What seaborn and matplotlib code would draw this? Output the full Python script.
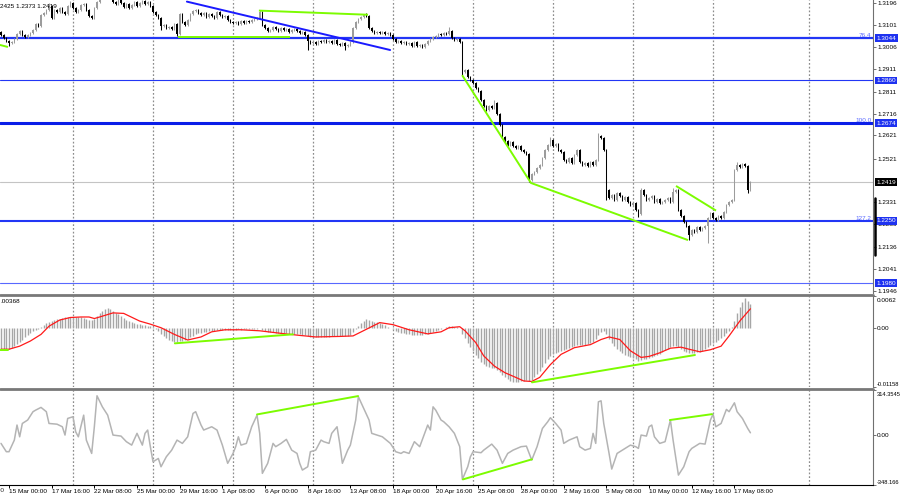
import numpy as np
import pandas as pd
import matplotlib
matplotlib.use("Agg")
import matplotlib.pyplot as plt
from matplotlib.lines import Line2D
from matplotlib.transforms import ScaledTranslation
import seaborn as sns

# ---------------- data ----------------
first_open = 1.3070
closes = [
    1.3057, 1.3044, 1.3031, 1.3022, 1.3027, 1.3040, 1.3061, 1.3074, 1.3057, 1.3048,
    1.3057, 1.3066, 1.3079, 1.3105, 1.3096, 1.3144, 1.3153, 1.3166, 1.3183, 1.3131,
    1.3166, 1.3157, 1.3174, 1.3157, 1.3148, 1.3183, 1.3196, 1.3174, 1.3157, 1.3166,
    1.3187, 1.3192, 1.3166, 1.3140, 1.3131, 1.3174, 1.3200, 1.3226, 1.3252, 1.3270,
    1.3252, 1.3226, 1.3200, 1.3192, 1.3209, 1.3196, 1.3179, 1.3192, 1.3174, 1.3187,
    1.3200, 1.3183, 1.3196, 1.3205, 1.3192, 1.3200, 1.3183, 1.3157, 1.3144, 1.3131,
    1.3096, 1.3101, 1.3087, 1.3092, 1.3083, 1.3105, 1.3061, 1.3148, 1.3114, 1.3101,
    1.3122, 1.3148, 1.3161, 1.3166, 1.3153, 1.3144, 1.3153, 1.3135, 1.3148, 1.3140,
    1.3131, 1.3157, 1.3144, 1.3135, 1.3140, 1.3122, 1.3114, 1.3109, 1.3114, 1.3105,
    1.3118, 1.3109, 1.3118, 1.3114, 1.3122, 1.3127, 1.3131, 1.3157, 1.3101, 1.3087,
    1.3074, 1.3079, 1.3092, 1.3083, 1.3074, 1.3087, 1.3079, 1.3083, 1.3070, 1.3079,
    1.3083, 1.3074, 1.3066, 1.3070, 1.3057, 1.3031, 1.3022, 1.3027, 1.3018, 1.3031,
    1.3027, 1.3035, 1.3027, 1.3031, 1.3022, 1.3035, 1.3018, 1.3014, 1.3022, 1.3009,
    1.3014, 1.3027, 1.3087, 1.3114, 1.3127, 1.3135, 1.3144, 1.3140, 1.3087, 1.3074,
    1.3066, 1.3070, 1.3066, 1.3070, 1.3061, 1.3066, 1.3057, 1.3040, 1.3027, 1.3031,
    1.3022, 1.3027, 1.3018, 1.3022, 1.3009, 1.3027, 1.3009, 1.3014, 1.3005, 1.3018,
    1.3031, 1.3040, 1.3048, 1.3053, 1.3061, 1.3057, 1.3066, 1.3061, 1.3074, 1.3044,
    1.3035, 1.3040, 1.3027, 1.2897, 1.2905, 1.2875, 1.2862, 1.2849, 1.2827, 1.2814,
    1.2775, 1.2749, 1.2732, 1.2749, 1.2740, 1.2762, 1.2714, 1.2667, 1.2614, 1.2597,
    1.2580, 1.2593, 1.2575, 1.2567, 1.2575, 1.2558, 1.2549, 1.2541, 1.2428, 1.2454,
    1.2463, 1.2480, 1.2493, 1.2523, 1.2558, 1.2580, 1.2601, 1.2575, 1.2584, 1.2558,
    1.2549, 1.2515, 1.2506, 1.2523, 1.2502, 1.2536, 1.2558, 1.2506, 1.2493, 1.2502,
    1.2489, 1.2506, 1.2493, 1.2515, 1.2619, 1.2610, 1.2558, 1.2384, 1.2350, 1.2363,
    1.2341, 1.2371, 1.2358, 1.2341, 1.2354, 1.2332, 1.2319, 1.2328, 1.2298, 1.2280,
    1.2384, 1.2363, 1.2341, 1.2350, 1.2358, 1.2332, 1.2345, 1.2328, 1.2332, 1.2341,
    1.2350, 1.2332, 1.2376, 1.2384, 1.2298, 1.2272, 1.2246, 1.2228, 1.2189, 1.2211,
    1.2202, 1.2224, 1.2211, 1.2220, 1.2228, 1.2263, 1.2285, 1.2263, 1.2254, 1.2272,
    1.2263, 1.2289, 1.2319, 1.2332, 1.2341, 1.2471, 1.2493, 1.2484, 1.2497, 1.2489,
    1.2384, 1.2419,
]
spike_high = {18: 1.3196, 26: 1.3205, 97: 1.3166, 137: 1.3153, 168: 1.3092,
              185: 1.2775, 206: 1.2614, 224: 1.2632, 240: 1.2393, 252: 1.2393,
              276: 1.2506}
spike_low = {3: 1.3009, 60: 1.3079, 66: 1.3053, 115: 1.2992, 129: 1.2992,
             173: 1.2883, 198: 1.2419, 227: 1.2341, 239: 1.2267, 258: 1.2167,
             265: 1.2154, 280: 1.2371}

# MACD histogram in units of 1e-4
macd_hist_e4 = [
    -43, -43, -43, -42, -40, -36, -32, -27, -23, -19,
    -15, -11, -7, -4, -2, 2, 5, 9, 12, 14,
    16, 17, 18, 19, 20, 20, 21, 21, 20, 20,
    20, 19, 18, 16, 15, 18, 23, 28, 33, 37,
    39, 37, 33, 29, 26, 22, 19, 16, 13, 11,
    9, 8, 7, 6, 5, 4, 3, 1, -2, -7,
    -12, -16, -20, -23, -25, -27, -28, -26, -25, -24,
    -22, -19, -16, -13, -11, -10, -9, -8, -7, -6,
    -6, -5, -5, -5, -4, -4, -4, -4, -4, -3,
    -4, -3, -3, -3, -3, -2, -2, -1, -4, -6,
    -8, -9, -9, -10, -10, -10, -11, -11, -12, -12,
    -12, -13, -13, -14, -15, -17, -18, -18, -19, -19,
    -19, -18, -18, -18, -17, -17, -17, -17, -17, -17,
    -16, -14, -8, -2, 4, 9, 14, 17, 16, 14,
    12, 11, 9, 7, 5, 2, 0, -3, -6, -8,
    -10, -11, -12, -13, -14, -14, -14, -14, -14, -13,
    -12, -10, -8, -6, -4, -2, 0, 2, 3, 3,
    2, 1, 0, -12, -20, -30, -38, -46, -54, -60,
    -66, -71, -74, -76, -78, -79, -82, -86, -92, -97,
    -101, -104, -106, -107, -106, -105, -104, -103, -104, -102,
    -96, -90, -84, -76, -68, -61, -55, -52, -49, -47,
    -45, -43, -41, -39, -38, -36, -34, -34, -33, -33,
    -32, -30, -27, -22, -14, -8, -7, -13, -22, -30,
    -36, -42, -46, -50, -53, -56, -58, -60, -62, -65,
    -63, -62, -61, -59, -57, -55, -53, -51, -48, -44,
    -41, -38, -36, -35, -38, -42, -45, -48, -50, -50,
    -49, -48, -47, -45, -42, -38, -34, -30, -27, -24,
    -20, -16, -11, -6, 2, 14, 28, 40, 50, 58,
    52, 46,
]
signal_bars = [0, 3, 7, 11, 15, 18, 22, 26, 30, 33, 35, 37, 42, 46, 52, 56, 60, 65, 70, 75,
               79, 84, 90, 97, 105, 112, 118, 127, 132, 137, 142, 147, 153, 160, 165, 168,
               172, 174, 178, 181, 185, 189, 193, 196, 199, 202, 206, 210, 215, 221, 225,
               228, 232, 236, 240, 243, 247, 251, 255, 258, 262, 266, 270, 273, 277, 281]
signal_e4 = [-42, -42, -36, -26, -13, 3, 15, 20, 21, 21, 18, 21, 29, 28, 13, 7, 0, -13, -24, -18,
             -8, -4, -4, -6, -11, -15, -18, -17, -16, -3, 10, 6, -4, -12, -8, 0,
             2, -6, -29, -55, -75, -88, -97, -104, -105, -97, -72, -52, -39, -33, -23,
             -18, -23, -45, -58, -56, -49, -40, -38, -42, -47, -43, -36, -16, 13, 37]

cci_points = [
    (0, -58), (2, -116), (3, -116), (5, -35), (6, 70), (7, -12), (8, 81), (10, 105),
    (12, 163), (13, 174), (15, 193), (17, 163), (18, 81), (21, 76), (23, 58), (24, 0),
    (25, 116), (27, 128), (28, 23), (29, -12), (31, 139), (32, -35), (34, -128), (35, 58),
    (36, 274), (38, 197), (40, 139), (42, 0), (45, -7), (47, -46), (49, -70), (51, 12),
    (53, -70), (54, 12), (55, 35), (56, -81), (57, -186), (59, -163), (60, -221), (62, -151),
    (64, -105), (66, -35), (68, -58), (70, -12), (72, 151), (73, 163), (75, 70), (76, 35),
    (79, 58), (81, 35), (83, -70), (85, -197), (87, -128), (88, -81), (89, -12), (90, -70),
    (92, -58), (94, 58), (96, 139), (97, 12), (98, -267), (100, -197), (102, -58), (103, -81),
    (105, -58), (107, -30), (109, -105), (111, -128), (112, -197), (113, -244), (115, -221),
    (116, -116), (118, -105), (120, -35), (121, -46), (123, -58), (124, 12), (126, 58),
    (127, -58), (128, -197), (130, -105), (131, -70), (133, 105), (134, 267), (136, 186),
    (138, 105), (139, 12), (141, 0), (143, -12), (146, -58), (148, -116), (150, -128),
    (151, -116), (153, -128), (155, -46), (157, -81), (160, 70), (161, 35), (162, 197),
    (163, 174), (165, 105), (166, 93), (168, 58), (170, 12), (172, -81), (173, -309),
    (175, -221), (176, -151), (177, -116), (180, -123), (181, -105), (184, -63), (186, -105),
    (188, -197), (190, -128), (192, -105), (195, -81), (197, -77), (199, -174), (201, -81),
    (203, 46), (205, 93), (206, 121), (208, 81), (210, 35), (211, -58), (213, -35),
    (216, -12), (217, -81), (219, -105), (221, -93), (222, 12), (223, -58), (224, 232),
    (225, 239), (226, 81), (228, -128), (229, -237), (231, -128), (233, -105), (236, -70),
    (238, -81), (239, -93), (240, 0), (242, -7), (243, 58), (244, 70), (245, -12),
    (247, -58), (249, -46), (251, 105), (252, -35), (254, -279), (256, -221), (258, -116),
    (259, -93), (262, -58), (264, -63), (266, 105), (267, 146), (268, 58), (270, 81),
    (272, 179), (273, 163), (275, 225), (276, 163), (278, 116), (280, 46), (281, 16),
]

time_label_bars = [3, 19, 35, 51, 67, 83, 99, 115, 131, 147, 163, 179, 195, 211, 227, 243, 259, 275]
time_labels = ["15 Mar 00:00", "17 Mar 16:00", "22 Mar 08:00", "25 Mar 00:00", "29 Mar 16:00",
               "1 Apr 08:00", "6 Apr 00:00", "8 Apr 16:00", "13 Apr 08:00", "18 Apr 00:00",
               "20 Apr 16:00", "25 Apr 08:00", "28 Apr 00:00", "2 May 16:00", "5 May 08:00",
               "10 May 00:00", "12 May 16:00", "17 May 08:00"]
cut_label_bar = -13
cut_label = "10 Mar 16:00"
grid_bars = [27, 57, 87, 117, 147, 177, 207, 237, 267, 303]

price_ticks = [1.3196, 1.3101, 1.3006, 1.2911, 1.2811, 1.2716, 1.2621, 1.2521,
               1.2331, 1.2236, 1.2136, 1.2041, 1.1946]
level_values = [1.3044, 1.2860, 1.2674, 1.2250, 1.1980]
fib_names = ["76.4", "100.0", "127.2"]
fib_values = [1.3044, 1.2674, 1.2250]
last_price = 1.2419
price_range = (1.19374, 1.32090)
macd_range = (-0.01158, 0.0062)
cci_range = (-348.166, 314.3545)
macd_ticks = [0.0062, 0.0, -0.01158]
macd_tick_labels = ["0.0062", "0.00", "-0.01158"]
cci_ticks = [314.3545, 0.0, -348.166]
cci_tick_labels = ["314.3545", "0.00", "-348.166"]
header_text = "2425 1.2373 1.2419"
macd_header = ".00368"

green_price = [[(-0.4, 1.3014), (2.6, 1.3005)],
               [(66.4, 1.3050), (108.4, 1.3050)],
               [(96.7, 1.3163), (137.6, 1.3145)],
               [(172.9, 1.2883), (198.7, 1.2415), (257.6, 1.2167)],
               [(253.1, 1.2402), (268.1, 1.2295)]]
blue_trend = [(69.7, 1.3202), (145.9, 1.2992)]
green_macd = [[(-0.4, -0.00436), (2.6, -0.00436)],
              [(65.2, -0.00305), (109.5, -0.00129)],
              [(199.1, -0.01067), (260.2, -0.00533)]]
green_cci = [[(96.0, 144), (133.9, 272)],
             [(173.2, -309), (199.1, -169)],
             [(250.8, 105), (266.6, 146)]]

# ---------------- styling ----------------
sns.set_style("white")
plt.rcParams['font.family'] = ['Liberation Sans Narrow', 'Liberation Sans', 'DejaVu Sans']
plt.rcParams['axes.linewidth'] = 0.8

W, H = 900, 499
PX_PER_BAR = 2.667
BAR0_PX = 1.0
PLOT_RIGHT = 873
XLIM = ((0 - BAR0_PX) / PX_PER_BAR, (PLOT_RIGHT - BAR0_PX) / PX_PER_BAR)

BLUE = '#2236f5'
GREEN = '#7cfc00'
AXIS_GRAY = '#707070'

fig = plt.figure(figsize=(W / 100, H / 100), dpi=100)
fig.patch.set_facecolor('white')

renderer = fig.canvas.get_renderer()
probe = fig.text(0, 0, "15 Mar 00:00", fontsize=10)
w_probe = probe.get_window_extent(renderer).width
probe.remove()
FS = float(np.clip(10 * 37.0 / w_probe, 4.6, 6.8))


def add_panel(top, bottom):
    ax = fig.add_axes([0, 1 - bottom / H, PLOT_RIGHT / W, (bottom - top) / H])
    ax.set_facecolor('white')
    for s in ['top', 'left', 'bottom']:
        ax.spines[s].set_visible(False)
    ax.spines['right'].set_color(AXIS_GRAY)
    ax.set_xlim(*XLIM)
    ax.yaxis.tick_right()
    ax.tick_params(axis='y', direction='out', length=2.2, width=0.7, pad=0.8,
                   labelsize=FS, colors='black')
    ax.tick_params(axis='y', color=AXIS_GRAY)
    ax.tick_params(axis='x', bottom=False, labelbottom=False)
    for g in grid_bars:
        ax.axvline(g, color='#8c8c8c', lw=0.9, ls=(0, (1.4, 1.6)), zorder=0.5)
    return ax


ax_p = add_panel(0, 293)
ax_m = add_panel(296, 387)
ax_c = add_panel(390, 485)

# ---------------- price panel ----------------
c = np.array(closes)
n = len(c)
xb = np.arange(n)
o = np.r_[first_open, c[:-1]]
WICK = 0.0005
hi = np.maximum(o, c) + WICK
lo = np.minimum(o, c) - WICK
for k, v in spike_high.items():
    hi[k] = max(hi[k], v)
for k, v in spike_low.items():
    lo[k] = min(lo[k], v)
bull = c >= o
cols = np.where(bull, '#9c9c9c', '#000000')
ax_p.vlines(xb, lo, hi, colors=cols, lw=0.75, zorder=3)
ax_p.bar(xb, np.maximum(np.abs(c - o), 0.00045), bottom=np.minimum(o, c), width=0.62,
         color=cols, linewidth=0, zorder=3)
ax_p.set_ylim(*price_range)

widths = [1.6, 0.8, 2.2, 1.5, 0.8]
lcols = [BLUE, BLUE, '#0a1ee8', BLUE, '#5868ff']
for v, lw, lc in zip(level_values, widths, lcols):
    ax_p.axhline(v, color=lc, lw=lw, zorder=2)
ax_p.axhline(last_price, color='#c4c4c4', lw=0.8, zorder=1)

for seg in green_price:
    xs, ys = zip(*seg)
    ax_p.plot(xs, ys, color=GREEN, lw=1.4, zorder=4, solid_capstyle='butt')
xs, ys = zip(*blue_trend)
ax_p.plot(xs, ys, color='#1a1aff', lw=1.4, zorder=4)

ax_p.set_yticks(price_ticks)
ax_p.set_yticklabels([f"{t:.4f}" for t in price_ticks])
ytr = ax_p.get_yaxis_transform()
for name, v in zip(fib_names, fib_values):
    ax_p.text(1 - 1.5 / PLOT_RIGHT, v + 0.0002, name, transform=ytr, ha='right', va='bottom',
              fontsize=FS, color='#5a6aff', zorder=6)
for v in level_values:
    ax_p.text(1 + 3.5 / PLOT_RIGHT, v, f"{v:.4f}", transform=ytr, ha='left', va='center',
              fontsize=FS, color='white', clip_on=False, zorder=7,
              bbox=dict(boxstyle='square,pad=0.2', fc='#1e32f0', ec='none'))
ax_p.text(1 + 3.5 / PLOT_RIGHT, last_price, f"{last_price:.4f}", transform=ytr, ha='left',
          va='center', fontsize=FS, color='white', clip_on=False, zorder=7,
          bbox=dict(boxstyle='square,pad=0.2', fc='black', ec='none'))

# ---------------- MACD panel ----------------
hist = np.array(macd_hist_e4) * 1e-4
ax_m.vlines(np.arange(len(hist)), 0, hist, colors='#a6a6a6', lw=1.0, zorder=2)
sig_df = pd.DataFrame({'bar': signal_bars, 'sig': np.array(signal_e4) * 1e-4})
sns.lineplot(data=sig_df, x='bar', y='sig', ax=ax_m, color='#ff1a1a', lw=0.9,
             estimator=None, sort=False, legend=False, zorder=3)
for seg in green_macd:
    xs, ys = zip(*seg)
    ax_m.plot(xs, ys, color=GREEN, lw=1.4, zorder=4)
ax_m.set_ylim(*macd_range)
ax_m.set_xlim(*XLIM)
ax_m.set_xlabel('')
ax_m.set_ylabel('')
ax_m.set_yticks(macd_ticks)
ax_m.set_yticklabels(macd_tick_labels)

down = ScaledTranslation(0, -2.2 / 100, fig.dpi_scale_trans)
tl = ax_m.get_yticklabels()
tl[0].set_va('top')
tl[0].set_transform(tl[0].get_transform() + down)
tl[-1].set_va('bottom')
tl[-1].set_fontsize(FS * 0.9)

# ---------------- CCI panel ----------------
cci_df = pd.DataFrame(cci_points, columns=['bar', 'cci'])
sns.lineplot(data=cci_df, x='bar', y='cci', ax=ax_c, color='#b4b4b4', lw=1.1,
             estimator=None, sort=False, legend=False, zorder=3)
for seg in green_cci:
    xs, ys = zip(*seg)
    ax_c.plot(xs, ys, color=GREEN, lw=1.4, zorder=4)
ax_c.set_ylim(*cci_range)
ax_c.set_xlim(*XLIM)
ax_c.set_xlabel('')
ax_c.set_ylabel('')
ax_c.set_yticks(cci_ticks)
ax_c.set_yticklabels(cci_tick_labels)
tl = ax_c.get_yticklabels()
tl[0].set_va('top')
tl[0].set_fontsize(FS * 0.9)
tl[0].set_transform(tl[0].get_transform() + down)
tl[-1].set_va('bottom')
tl[-1].set_fontsize(FS * 0.9)

ax_c.spines['bottom'].set_visible(True)
ax_c.spines['bottom'].set_color('black')
ax_c.set_xticks(time_label_bars)
ax_c.set_xticklabels(time_labels)
ax_c.tick_params(axis='x', bottom=True, labelbottom=True, direction='out', length=2,
                 width=0.7, pad=0.8, labelsize=FS, colors='black')
for t in ax_c.get_xticklabels():
    t.set_ha('left')
ax_c.text(cut_label_bar, -2.8 / 95, cut_label, transform=ax_c.get_xaxis_transform(),
          ha='left', va='top', fontsize=FS, clip_on=False)

# ---------------- frame details ----------------
for ypx in (294.6, 388.6):
    fig.add_artist(Line2D([0, PLOT_RIGHT / W], [1 - ypx / H] * 2, color='#787878', lw=2.0))
fig.add_artist(Line2D([874.5 / W] * 2, [1 - 198 / H, 1 - 255 / H], color='black', lw=1.8))

fig.text(0.5 / W, 1 - 7 / H, header_text, fontsize=FS, ha='left', va='center', color='black')
fig.text(0.5 / W, 1 - 301.5 / H, macd_header, fontsize=FS, ha='left', va='center', color='black')

fig.savefig("out.png", dpi=100, facecolor='white')
